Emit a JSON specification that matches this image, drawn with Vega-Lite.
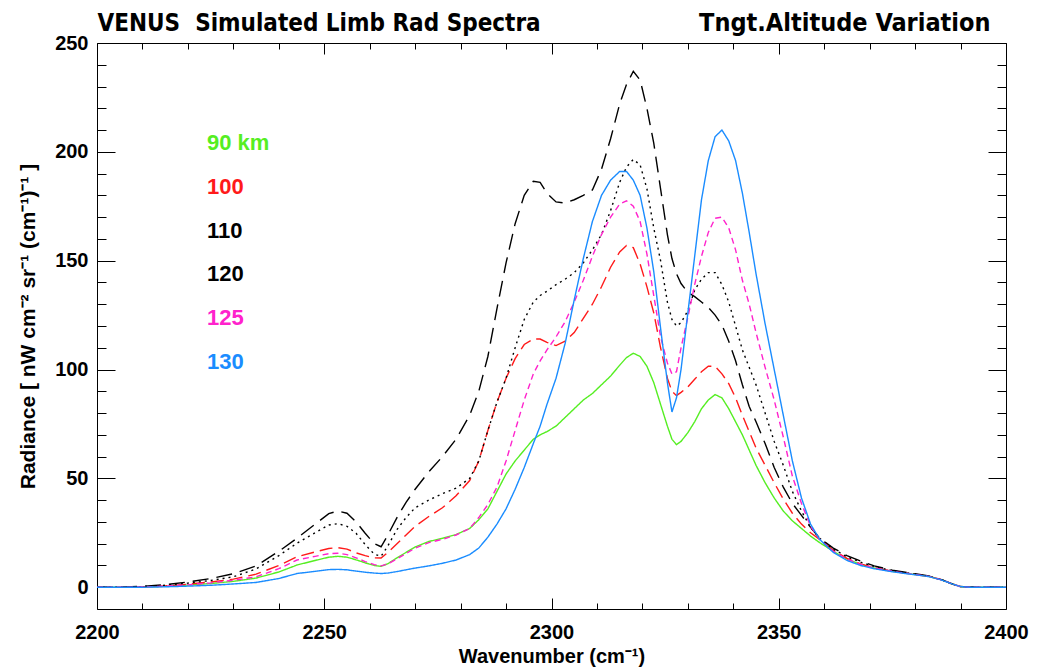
{
  "$schema": "https://vega.github.io/schema/vega-lite/v6.json",
  "width": 909,
  "height": 566,
  "autosize": {"type": "none"},
  "padding": {"left": 97, "top": 43, "right": 39, "bottom": 60},
  "background": "white",
  "config": {"view": {"stroke": "#000", "strokeWidth": 1}, "font": "Liberation Sans"},
  "data": {"values": [
    {"w":2200,"90 km":0,"100":0,"110":0,"120":0,"125":0,"130":0},
    {"w":2205,"90 km":0,"100":0,"110":0,"120":0,"125":0,"130":0},
    {"w":2210,"90 km":0.1,"100":0.2,"110":0.4,"120":0.3,"125":0.1,"130":0},
    {"w":2215,"90 km":0.4,"100":0.6,"110":1.2,"120":0.9,"125":0.5,"130":0.2},
    {"w":2220,"90 km":1.0,"100":1.4,"110":2.4,"120":1.9,"125":1.1,"130":0.5},
    {"w":2225,"90 km":1.7,"100":2.4,"110":4.0,"120":3.1,"125":2.0,"130":0.9},
    {"w":2230,"90 km":2.7,"100":3.7,"110":6.2,"120":4.8,"125":3.2,"130":1.5},
    {"w":2235,"90 km":4.2,"100":6.0,"110":9.8,"120":8.4,"125":4.8,"130":2.2},
    {"w":2240,"90 km":7.0,"100":10.0,"110":16.5,"120":14.5,"125":8.5,"130":4.0},
    {"w":2244,"90 km":10.2,"100":14.0,"110":22.5,"120":20.2,"125":12.5,"130":6.3},
    {"w":2248,"90 km":12.3,"100":16.2,"110":29.0,"120":25.0,"125":14.2,"130":7.3},
    {"w":2251,"90 km":13.8,"100":17.8,"110":33.8,"120":28.6,"125":15.4,"130":8.1},
    {"w":2253,"90 km":14.2,"100":18.2,"110":35.0,"120":29.2,"125":15.6,"130":8.2},
    {"w":2255,"90 km":13.8,"100":17.5,"110":34.0,"120":28.0,"125":15.0,"130":8.0},
    {"w":2257,"90 km":12.6,"100":15.8,"110":30.0,"120":24.8,"125":13.5,"130":7.4},
    {"w":2259,"90 km":11.2,"100":14.5,"110":24.8,"120":19.6,"125":11.8,"130":6.9},
    {"w":2261,"90 km":10.0,"100":13.5,"110":20.0,"120":15.2,"125":10.4,"130":6.5},
    {"w":2262.5,"90 km":9.6,"100":13.4,"110":18.6,"120":14.2,"125":9.8,"130":6.3},
    {"w":2264,"90 km":10.8,"100":16.0,"110":24.0,"120":19.0,"125":10.7,"130":6.5},
    {"w":2266,"90 km":13.5,"100":20.0,"110":32.0,"120":26.5,"125":13.0,"130":7.2},
    {"w":2268,"90 km":16.0,"100":24.0,"110":39.0,"120":32.0,"125":15.5,"130":8.0},
    {"w":2270,"90 km":18.5,"100":28.0,"110":45.0,"120":36.5,"125":18.0,"130":8.8},
    {"w":2273,"90 km":21.0,"100":32.5,"110":53.0,"120":40.0,"125":20.5,"130":9.8},
    {"w":2276,"90 km":22.5,"100":36.5,"110":60.0,"120":43.0,"125":22.0,"130":11.0},
    {"w":2279,"90 km":24.2,"100":42.0,"110":68.0,"120":45.5,"125":24.0,"130":12.5},
    {"w":2282,"90 km":27.0,"100":49.0,"110":79.0,"120":50.0,"125":27.0,"130":15.0},
    {"w":2284,"90 km":31.0,"100":58.0,"110":90.0,"120":58.0,"125":32.0,"130":18.0},
    {"w":2286,"90 km":36.0,"100":72.0,"110":106.0,"120":72.0,"125":38.0,"130":23.0},
    {"w":2288,"90 km":44.0,"100":85.0,"110":128.0,"120":85.0,"125":46.0,"130":29.0},
    {"w":2290,"90 km":52.0,"100":96.0,"110":149.0,"120":96.0,"125":58.0,"130":36.0},
    {"w":2292,"90 km":58.0,"100":105.0,"110":167.0,"120":110.0,"125":72.0,"130":45.0},
    {"w":2294,"90 km":63.0,"100":111.5,"110":180.0,"120":123.0,"125":86.0,"130":55.0},
    {"w":2296,"90 km":68.0,"100":114.0,"110":186.5,"120":131.0,"125":98.0,"130":66.0},
    {"w":2297.5,"90 km":70.0,"100":114.0,"110":186.0,"120":134.0,"125":104.0,"130":74.0},
    {"w":2299,"90 km":71.5,"100":112.5,"110":181.0,"120":136.0,"125":109.0,"130":84.0},
    {"w":2301,"90 km":74.0,"100":111.0,"110":177.0,"120":139.0,"125":115.0,"130":96.0},
    {"w":2303,"90 km":78.0,"100":113.0,"110":176.5,"120":141.5,"125":122.0,"130":112.0},
    {"w":2305,"90 km":82.0,"100":117.0,"110":178.0,"120":144.5,"125":131.0,"130":132.0},
    {"w":2307,"90 km":86.0,"100":123.5,"110":180.0,"120":149.0,"125":141.0,"130":151.0},
    {"w":2309,"90 km":89.0,"100":130.0,"110":182.5,"120":155.0,"125":152.0,"130":168.0},
    {"w":2311,"90 km":93.0,"100":138.0,"110":192.0,"120":162.0,"125":162.0,"130":180.0},
    {"w":2313,"90 km":97.0,"100":147.0,"110":206.0,"120":173.0,"125":170.0,"130":187.0},
    {"w":2315,"90 km":102.0,"100":154.0,"110":222.0,"120":186.0,"125":176.0,"130":191.0},
    {"w":2316.5,"90 km":105.5,"100":157.0,"110":231.0,"120":193.0,"125":177.5,"130":191.0},
    {"w":2318,"90 km":107.5,"100":156.0,"110":237.0,"120":196.5,"125":175.0,"130":187.0},
    {"w":2319.5,"90 km":106.0,"100":148.5,"110":233.0,"120":194.0,"125":168.0,"130":180.0},
    {"w":2321,"90 km":101.5,"100":138.0,"110":220.0,"120":183.0,"125":153.0,"130":165.0},
    {"w":2322.5,"90 km":94.0,"100":126.0,"110":204.0,"120":165.0,"125":134.0,"130":145.0},
    {"w":2324,"90 km":84.0,"100":110.0,"110":183.0,"120":150.0,"125":115.0,"130":119.0},
    {"w":2325.5,"90 km":74.0,"100":96.0,"110":162.0,"120":131.0,"125":103.0,"130":94.0},
    {"w":2326.5,"90 km":68.0,"100":90.0,"110":151.0,"120":123.0,"125":98.0,"130":80.5},
    {"w":2327.5,"90 km":65.5,"100":88.0,"110":144.0,"120":120.0,"125":99.0,"130":87.0},
    {"w":2328.5,"90 km":67.0,"100":89.5,"110":139.5,"120":121.5,"125":110.0,"130":100.0},
    {"w":2330,"90 km":71.0,"100":92.0,"110":135.5,"120":127.0,"125":124.0,"130":126.0},
    {"w":2331.5,"90 km":76.0,"100":95.5,"110":133.5,"120":136.5,"125":139.0,"130":152.0},
    {"w":2333,"90 km":82.0,"100":99.0,"110":131.0,"120":141.5,"125":152.0,"130":178.0},
    {"w":2334.5,"90 km":86.0,"100":101.5,"110":128.5,"120":144.5,"125":163.0,"130":196.0},
    {"w":2336,"90 km":88.5,"100":101.5,"110":125.0,"120":144.5,"125":169.5,"130":207.0},
    {"w":2337.5,"90 km":87.0,"100":98.0,"110":120.5,"120":139.0,"125":170.0,"130":210.0},
    {"w":2339,"90 km":82.0,"100":93.5,"110":113.0,"120":131.0,"125":165.0,"130":205.0},
    {"w":2340.5,"90 km":76.0,"100":87.0,"110":104.0,"120":120.0,"125":155.0,"130":196.0},
    {"w":2342,"90 km":70.0,"100":79.0,"110":93.0,"120":109.0,"125":141.0,"130":181.0},
    {"w":2343.5,"90 km":63.0,"100":71.5,"110":83.0,"120":101.0,"125":130.0,"130":163.0},
    {"w":2345,"90 km":56.0,"100":64.0,"110":76.0,"120":93.0,"125":117.0,"130":144.0},
    {"w":2347,"90 km":48.0,"100":56.0,"110":66.0,"120":80.0,"125":101.0,"130":121.0},
    {"w":2349,"90 km":41.0,"100":48.0,"110":55.0,"120":67.0,"125":86.0,"130":100.0},
    {"w":2351,"90 km":35.0,"100":40.5,"110":46.0,"120":56.0,"125":69.0,"130":79.0},
    {"w":2353,"90 km":30.5,"100":34.0,"110":38.5,"120":44.0,"125":51.0,"130":58.0},
    {"w":2355,"90 km":27.0,"100":29.0,"110":33.0,"120":35.0,"125":38.5,"130":41.0},
    {"w":2357,"90 km":23.5,"100":25.0,"110":27.5,"120":27.5,"125":28.0,"130":29.0},
    {"w":2359,"90 km":20.5,"100":22.0,"110":22.5,"120":22.5,"125":22.0,"130":22.0},
    {"w":2362,"90 km":16.5,"100":17.0,"110":18.0,"120":17.5,"125":16.5,"130":16.0},
    {"w":2365,"90 km":13.0,"100":13.3,"110":14.5,"120":14.0,"125":13.0,"130":12.3},
    {"w":2368,"90 km":10.5,"100":10.7,"110":12.0,"120":11.5,"125":10.5,"130":10.0},
    {"w":2371,"90 km":8.8,"100":9.0,"110":9.8,"120":9.5,"125":8.8,"130":8.5},
    {"w":2375,"90 km":7.3,"100":7.4,"110":7.8,"120":7.6,"125":7.3,"130":7.1},
    {"w":2380,"90 km":5.8,"100":5.9,"110":6.2,"120":6.0,"125":5.8,"130":5.7},
    {"w":2383,"90 km":5.0,"100":5.0,"110":5.2,"120":5.1,"125":5.0,"130":4.9},
    {"w":2386,"90 km":3.3,"100":3.3,"110":3.4,"120":3.3,"125":3.3,"130":3.2},
    {"w":2388,"90 km":1.6,"100":1.6,"110":1.7,"120":1.6,"125":1.6,"130":1.6},
    {"w":2390,"90 km":0.3,"100":0.3,"110":0.4,"120":0.3,"125":0.3,"130":0.3},
    {"w":2392,"90 km":0,"100":0,"110":0,"120":0,"125":0,"130":0},
    {"w":2400,"90 km":0,"100":0,"110":0,"120":0,"125":0,"130":0}
  ]},
  "transform": [{"fold": ["90 km", "100", "110", "120", "125", "130"], "as": ["alt", "rad"]}],
  "layer": [
    {
      "mark": {"type": "line", "strokeWidth": 1.4, "clip": true},
      "encoding": {
        "x": {
          "field": "w", "type": "quantitative",
          "scale": {"domain": [2200, 2400], "nice": false, "zero": false},
          "axis": {
            "orient": "bottom",
            "values": [2200,2210,2220,2230,2240,2250,2260,2270,2280,2290,2300,2310,2320,2330,2340,2350,2360,2370,2380,2390,2400],
            "format": "d",
            "labelExpr": "datum.value % 50 === 0 ? datum.label : ''",
            "tickSize": {"condition": {"test": "datum.value % 50 === 0", "value": -11}, "value": -6},
            "tickColor": "#000",
            "tickWidth": 1,
            "domain": false,
            "grid": false,
            "labelFlush": false,
            "labelOverlap": false,
            "labelFont": "Liberation Sans",
            "labelFontSize": 20,
            "labelFontWeight": "bold",
            "labelColor": "#000",
            "labelPadding": 24,
            "title": "Wavenumber (cm\u207b\u00b9)",
            "titleFont": "Liberation Sans",
            "titleFontSize": 20,
            "titleFontWeight": "bold",
            "titleColor": "#000",
            "titleBaseline": "alphabetic",
            "titleY": 53
          }
        },
        "y": {
          "field": "rad", "type": "quantitative",
          "scale": {"domain": [-10, 250], "nice": false, "zero": false},
          "axis": {
            "orient": "left",
            "values": [0,10,20,30,40,50,60,70,80,90,100,110,120,130,140,150,160,170,180,190,200,210,220,230,240,250],
            "labelExpr": "datum.value % 50 === 0 ? datum.label : ''",
            "tickSize": {"condition": {"test": "datum.value % 50 === 0", "value": -18}, "value": -9},
            "tickColor": "#000",
            "domain": false,
            "grid": false,
            "labelOverlap": false,
            "labelFlush": false,
            "labelFont": "Liberation Sans",
            "labelFontSize": 20,
            "labelFontWeight": "bold",
            "labelColor": "#000",
            "labelPadding": 27,
            "title": "Radiance [ nW cm\u207b\u00b2 sr\u207b\u00b9 (cm\u207b\u00b9)\u207b\u00b9 ]",
            "titleFont": "Liberation Sans",
            "titleFontSize": 21,
            "titleFontWeight": "bold",
            "titleColor": "#000",
            "titlePadding": 16
          }
        },
        "color": {
          "field": "alt", "type": "nominal",
          "scale": {"domain": ["90 km", "100", "110", "120", "125", "130"], "range": ["#55ee22", "#ff1a1a", "#000000", "#000000", "#ff22cc", "#1a8cff"]},
          "legend": {
            "orient": "none",
            "legendX": 88,
            "legendY": 89,
            "direction": "vertical",
            "title": null,
            "padding": 0,
            "symbolOpacity": 0,
            "symbolSize": 0,
            "symbolStrokeWidth": 0,
            "labelOffset": 0,
            "labelFont": "Liberation Sans",
            "labelFontSize": 22,
            "labelFontWeight": "bold",
            "rowPadding": 21.8,
            "encode": {"labels": {"update": {"fill": {"scale": "color", "field": "value"}}}}
          }
        },
        "strokeDash": {
          "field": "alt", "type": "nominal",
          "scale": {"domain": ["90 km", "100", "110", "120", "125", "130"], "range": [[1, 0], [13, 6], [16, 8], [2, 4], [6, 4], [1, 0]]},
          "legend": null
        }
      }
    },
    {
      "mark": {"type": "line", "opacity": 0},
      "encoding": {
        "x": {
          "field": "w", "type": "quantitative",
          "axis": {
            "orient": "top",
            "values": [2200,2210,2220,2230,2240,2250,2260,2270,2280,2290,2300,2310,2320,2330,2340,2350,2360,2370,2380,2390,2400],
            "labels": false,
            "tickSize": {"condition": {"test": "datum.value % 50 === 0", "value": -11}, "value": -6},
            "tickColor": "#000",
            "domain": false,
            "grid": false,
            "title": "VENUS\u00a0 Simulated Limb Rad Spectra",
            "titleFont": "Liberation Sans Narrow, Arial Narrow, DejaVu Sans Condensed, sans-serif",
            "titleFontSize": 24,
            "titleFontWeight": "bold",
            "titleColor": "#000",
            "titleAlign": "left",
            "titleAnchor": "start",
            "titleBaseline": "alphabetic",
            "titleX": 0,
            "titleY": -13
          }
        },
        "y": {
          "field": "rad", "type": "quantitative",
          "axis": {
            "orient": "right",
            "values": [0,10,20,30,40,50,60,70,80,90,100,110,120,130,140,150,160,170,180,190,200,210,220,230,240,250],
            "labels": false,
            "tickSize": {"condition": {"test": "datum.value % 50 === 0", "value": -18}, "value": -9},
            "tickColor": "#000",
            "domain": false,
            "grid": false,
            "title": "Tngt.Altitude Variation",
            "titleFont": "Liberation Sans Narrow, Arial Narrow, DejaVu Sans Condensed, sans-serif",
            "titleFontSize": 25,
            "titleFontWeight": "bold",
            "titleColor": "#000",
            "titleAngle": 0,
            "titleAlign": "right",
            "titleBaseline": "alphabetic",
            "titleX": -16,
            "titleY": -13
          }
        },
        "detail": {"field": "alt", "type": "nominal"}
      }
    }
  ],
  "resolve": {"axis": {"x": "independent", "y": "independent"}}
}
